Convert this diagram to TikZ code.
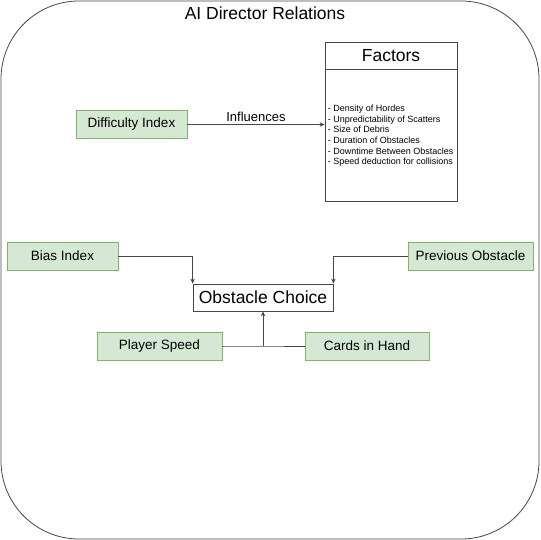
\documentclass[tikz,border=0pt]{standalone}
\usepackage{fontspec}
\setmainfont{Liberation Sans}
\usetikzlibrary{positioning,arrows.meta}
\definecolor{linegray}{RGB}{70,70,70}
\definecolor{greenfill}{HTML}{D5E8D4}
\definecolor{greenline}{HTML}{82B366}
\tikzset{
  greenbox/.style={draw=greenline, fill=greenfill, line width=0.8pt, inner sep=0pt,
    minimum height=28pt, font=\fontsize{13.5}{16}\selectfont},
  whitebox/.style={draw=linegray, fill=white, line width=0.8pt, inner sep=0pt,
    font=\fontsize{17.5}{20}\selectfont},
  link/.style={draw=linegray, line width=0.8pt},
  arrowlink/.style={link, -{Stealth[length=5pt,width=4.5pt]}}
}
\begin{document}
\begin{tikzpicture}[x=1pt,y=-1pt]
\useasboundingbox (0,0) rectangle (540,540);
% outer frame and title
\draw[linegray, line width=0.8pt, rounded corners=78pt] (1,1) rectangle (539,539);
\node[anchor=base, font=\fontsize{17.5}{20}\selectfont] (title) at (265,20) {AI Director Relations};
% difficulty and its factors
\node[greenbox, minimum width=111pt] (difficulty) at (131.5,124.5) {Difficulty Index};
\node[whitebox, minimum width=132pt, minimum height=27pt] (facthead) at (391,55.5) {Factors};
\node[whitebox, below=0pt of facthead, minimum width=132pt, minimum height=132pt] (factbody) {};
\node[right=3pt of factbody.west, inner sep=0pt, align=left,
  font=\fontsize{9}{10.67}\selectfont] (factlist)
  {- Density of Hordes\\- Unpredictability of Scatters\\- Size of Debris\\- Duration of Obstacles\\- Downtime Between Obstacles\\- Speed deduction for collisions};
\draw[arrowlink] (difficulty.east) -- (difficulty.east -| factbody.west)
  node[midway, above=-1pt, font=\fontsize{13}{15}\selectfont] (influences) {Influences};
% inputs of the obstacle choice
\node[whitebox, minimum width=140pt, minimum height=27pt] (choice) at (263,297.5) {Obstacle Choice};
\node[greenbox, minimum width=111pt] (bias) at (62.5,256) {Bias Index};
\node[greenbox, minimum width=125pt] (previous) at (470.5,256) {Previous Obstacle};
\node[greenbox, minimum width=125pt] (speed) at (159.5,346) {Player Speed};
\node[greenbox, minimum width=124pt] (cards) at (367,346) {Cards in Hand};
\coordinate (join) at (263,346);
\draw[arrowlink] (bias.east) -| (choice.north west);
\draw[arrowlink] (previous.west) -| (choice.north east);
\draw[link] (speed.east) -- (join) -- (cards.west);
\draw[arrowlink] (join) -- (choice.south);
\end{tikzpicture}
\end{document}
